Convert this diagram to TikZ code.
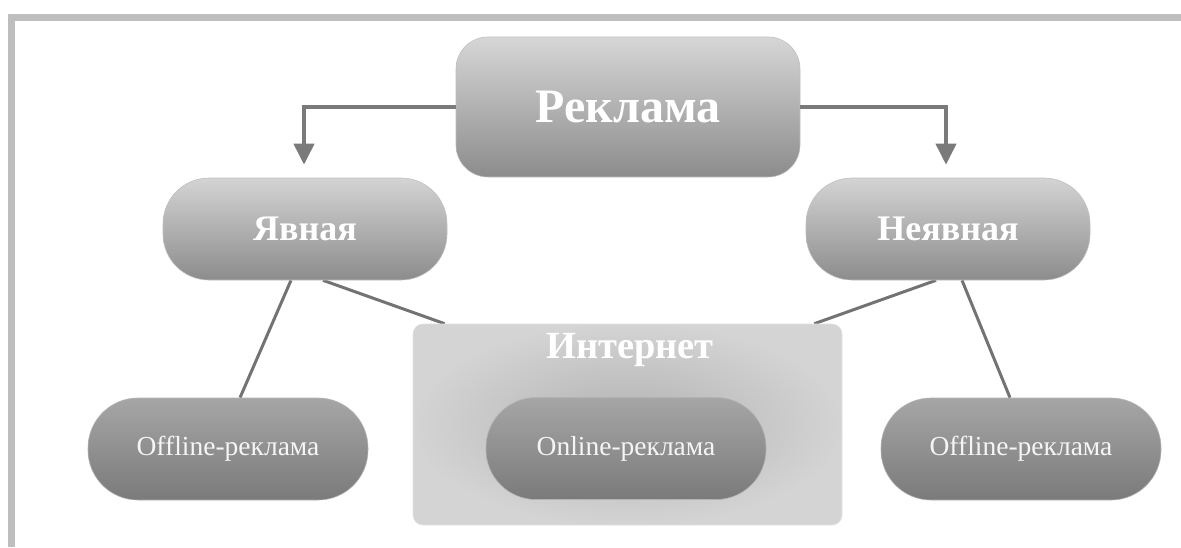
\documentclass[tikz,border=0pt]{standalone}
\usepackage{fontspec}
\setmainfont{Liberation Serif}
\usetikzlibrary{arrows.meta,calc,backgrounds}
\definecolor{frameC}{HTML}{BEBEBE}
\definecolor{lineC}{HTML}{737373}
\definecolor{arrC}{HTML}{7A7A7A}
\tikzset{
  topbox/.style={rounded corners=32pt, top color=black!16, bottom color=black!45,
    draw=black!25, line width=0.6pt, minimum width=344pt, minimum height=140pt,
    text=white, font=\fontsize{48}{52}\selectfont\bfseries, inner sep=0pt},
  midbox/.style={rounded corners=46pt, top color=black!17, bottom color=black!45,
    draw=black!25, line width=0.6pt, minimum width=284pt, minimum height=102pt,
    text=white, font=\fontsize{36}{40}\selectfont\bfseries, inner sep=0pt},
  lowbox/.style={rounded corners=50pt, top color=black!35, bottom color=black!52,
    draw=black!30, line width=0.6pt, minimum width=280pt, minimum height=102pt,
    text=black!4, font=\fontsize{27.5}{31}\selectfont, inner sep=0pt},
  inetbox/.style={rounded corners=10pt, inner color=black!30, outer color=black!17,
    draw=black!12, line width=0.6pt, minimum width=429pt, minimum height=201pt, inner sep=0pt},
  conn/.style={draw=lineC, line width=3pt},
  arr/.style={draw=arrC, line width=4pt, -{Triangle[width=20pt,length=21pt]}},
}
\begin{document}
\begin{tikzpicture}[x=1pt,y=1pt]
\useasboundingbox (0,0) rectangle (1181,-547);
% frame
\fill[frameC] (8,-14) rectangle (1181,-21);
\fill[frameC] (8,-14) rectangle (15,-547);
% nodes
\node[topbox] (rek) at (628,-107) {Реклама};
\node[midbox] (yav) at (305,-229) {Явная};
\node[midbox] (neyav) at (948,-229) {Неявная};
\node[inetbox] (inet) at (627.5,-424.5) {};
\node[text=white, font=\fontsize{38.5}{42}\selectfont\bfseries, anchor=center] (inettxt) at (630,-350) {Интернет};
\node[lowbox] (offL) at (228,-449) {Offline-реклама};
\node[lowbox] (onl) at (626,-448.5) {Online-реклама};
\node[lowbox] (offR) at (1021,-449) {Offline-реклама};
\begin{scope}[on background layer]
  \draw[conn] ($(yav.south)+(-14,0)$) -- ($(offL.north)+(12,0)$);
  \draw[conn] ($(yav.south)+(18,0)$) -- ($(inet.north west)+(32,0)$);
  \draw[conn] ($(neyav.south)+(14,0)$) -- ($(offR.north)+(-11,0)$);
  \draw[conn] ($(neyav.south)+(-12,0)$) -- ($(inet.north east)+(-28,0)$);
\end{scope}
\draw[arr] (rek.west) -| ($(yav.north)+(-1,13)$);
\draw[arr] (rek.east) -| ($(neyav.north)+(-2,13)$);
\end{tikzpicture}
\end{document}
